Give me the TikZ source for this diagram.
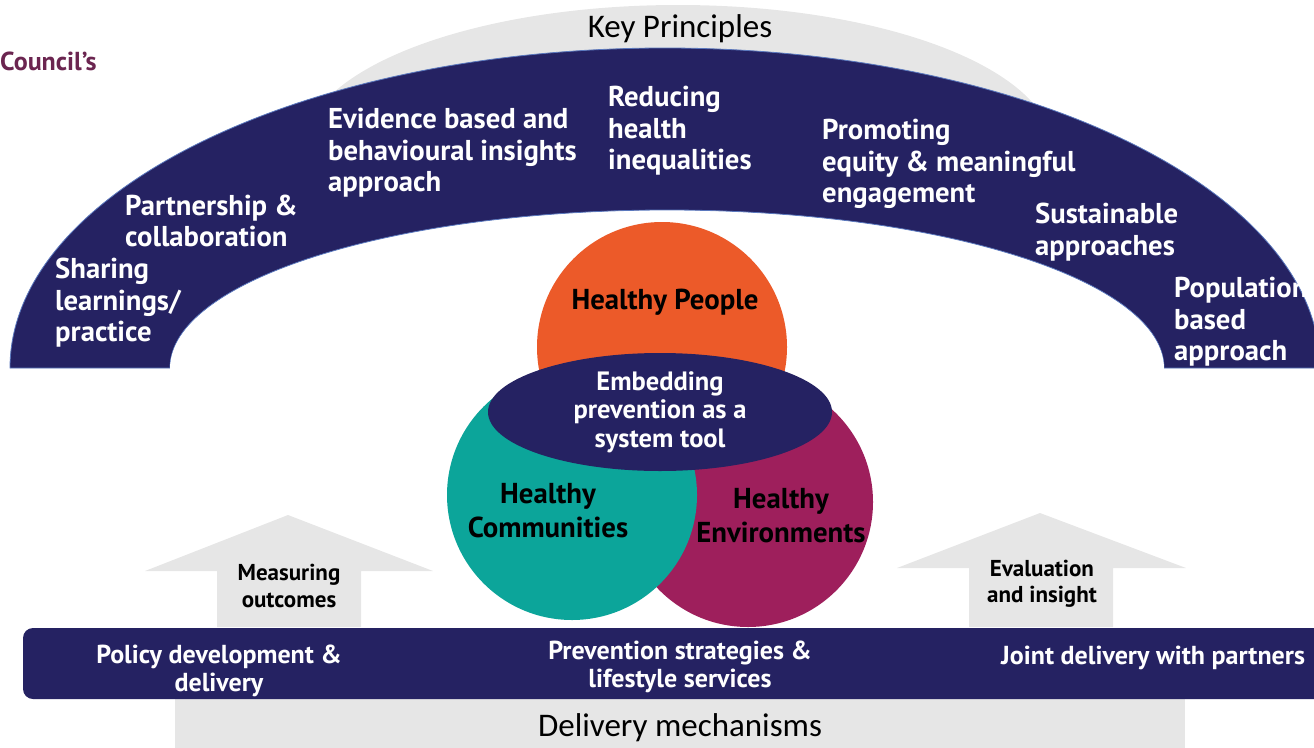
\documentclass[tikz,border=0pt]{standalone}
\usepackage{fontspec}
\setmainfont{PT Sans}
\newfontfamily\calibri{Carlito}
\usetikzlibrary{positioning, shapes.geometric}
\definecolor{navy}{HTML}{252262}
\definecolor{archedge}{HTML}{5A78BE}
\definecolor{peopleorange}{HTML}{EC5A29}
\definecolor{commteal}{HTML}{0CA59A}
\definecolor{envplum}{HTML}{9E1F5C}
\definecolor{lightgrey}{HTML}{E6E6E6}
\definecolor{councilplum}{HTML}{6B2550}
\tikzset{
  principle/.style={text=white, anchor=west, align=left, inner sep=0pt,
                    font=\bfseries\fontsize{28.7}{31.5}\selectfont},
  venn/.style={circle, minimum size=250pt, inner sep=0pt},
  venntext/.style={align=center, inner sep=0pt,
                   font=\bfseries\fontsize{28.8}{34}\selectfont},
  arrowtext/.style={align=center, inner sep=0pt,
                    font=\bfseries\fontsize{23}{26.5}\selectfont},
  bandtext/.style={text=white, align=center, inner sep=0pt,
                   font=\bfseries\fontsize{26}{28}\selectfont},
  heading/.style={inner sep=0pt, font=\calibri\fontsize{33}{38}\selectfont}
}

\begin{document}
\begin{tikzpicture}[x=1pt, y=-1pt]
\useasboundingbox (0,0) rectangle (1314,747);

% Key principles arch
\fill[lightgrey] (678,150) ellipse[x radius=375pt, y radius=145pt];
\fill[navy, draw=archedge, line width=0.8pt] (10,368) arc[start angle=180, end angle=0, x radius=655pt, y radius=320pt] -- cycle;
\fill[white, draw=archedge, line width=0.8pt] (170,368) arc[start angle=180, end angle=0, x radius=497pt, y radius=158pt];
\fill[white] (170,369) arc[start angle=180, end angle=0, x radius=497pt, y radius=158pt] -- cycle;

\node[heading] (KeyPrinciples) at (680,29) {Key Principles};
\node[anchor=west, inner sep=0pt, text=councilplum, font=\bfseries\fontsize{26}{30}\selectfont] (Council) at (0,61) {Council’s};

\node[principle] (Sharing) at (55,303) {Sharing\\learnings/\\practice};
\node[principle] (Partnership) at (125,221) {Partnership \&\\collaboration};
\node[principle] (Evidence) at (328,153) {Evidence based and\\behavioural insights\\approach};
\node[principle] (Reducing) at (608,131) {Reducing\\health\\inequalities};
\node[principle] (Promoting) at (822,164) {Promoting\\equity \& meaningful\\engagement};
\node[principle] (Sustainable) at (1035,232) {Sustainable\\approaches};
\node[principle] (Population) at (1174,322) {Population\\based\\approach};

% Venn of the three areas
\node[venn, fill=peopleorange] (People) at (662,347) {};
\node[venn, fill=envplum] (Environments) at (748,502) {};
\node[venn, fill=commteal] (Communities) at (572,495) {};
\node[ellipse, fill=navy, minimum width=344pt, minimum height=118pt, inner sep=0pt] (Embedding) at (660,412) {};

\node[venntext] (PeopleText) at (665,302) {Healthy People};
\node[venntext] (CommunitiesText) at (548,511) {Healthy\\Communities};
\node[venntext] (EnvironmentsText) at (781,516) {Healthy\\Environments};
\node[venntext, text=white, font=\bfseries\fontsize{26.5}{28.5}\selectfont] (EmbeddingText) at (Embedding.center) {Embedding\\prevention as a\\system tool};

% Up arrows
\fill[lightgrey] (217,627) -- (217,571) -- (145,571) -- (288,515) -- (433,571) -- (361,571) -- (361,627) -- cycle;
\fill[lightgrey] (969,627) -- (969,568) -- (897,568) -- (1040,513) -- (1186,568) -- (1113,568) -- (1113,627) -- cycle;
\node[arrowtext] (Measuring) at (289,586) {Measuring\\outcomes};
\node[arrowtext] (Evaluation) at (1042,584) {Evaluation\\and insight};

% Delivery mechanisms
\fill[lightgrey] (175,690) rectangle (1185,760);
\fill[navy, rounded corners=10pt] (1340,628) -- (23,628) -- (23,699) -- (1340,699) -- cycle;
\node[heading] (Mechanisms) at (680,728) {Delivery mechanisms};

\node[bandtext] (Policy) at (219,671) {Policy development \&\\delivery};
\node[bandtext] (Prevention) at (680,667) {Prevention strategies \&\\lifestyle services};
\node[bandtext, anchor=west] (Joint) at (1001,658) {Joint delivery with partners};

\end{tikzpicture}
\end{document}
